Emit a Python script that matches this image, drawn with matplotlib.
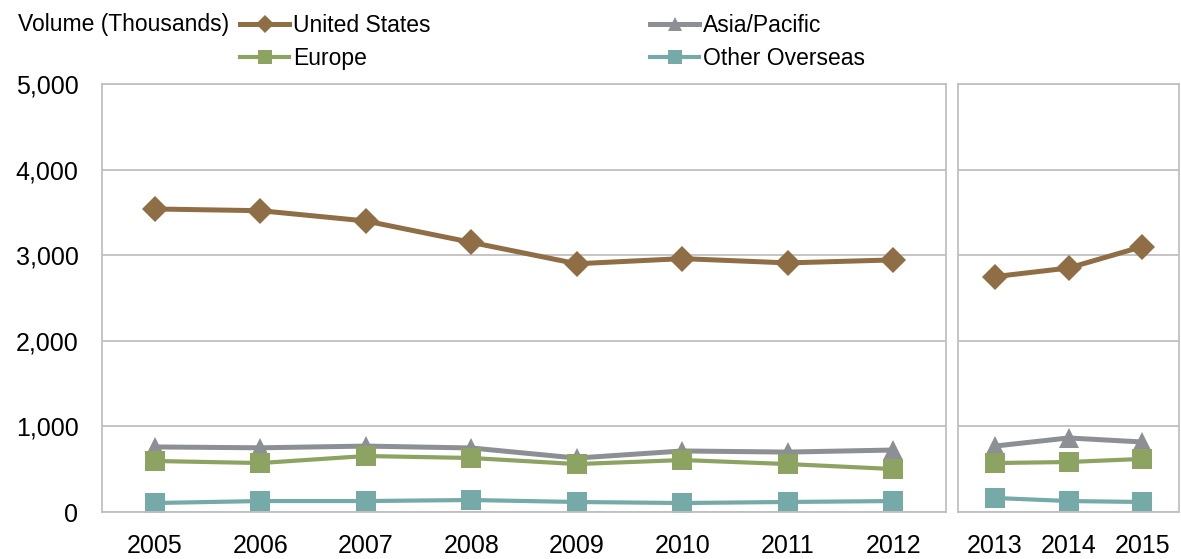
import matplotlib.pyplot as plt
from matplotlib.lines import Line2D

plt.rcParams['font.family'] = ['Liberation Sans', 'DejaVu Sans']

# data (thousands)
years_a = ['2005', '2006', '2007', '2008', '2009', '2010', '2011', '2012']
years_b = ['2013', '2014', '2015']

us = [3540, 3520, 3400, 3150, 2900, 2960, 2910, 2945, 2750, 2850, 3100]
asia = [760, 750, 770, 748, 630, 713, 700, 724, 770, 865, 818]
europe = [596, 572, 654, 631, 560, 607, 560, 502, 572, 584, 620]
other = [105, 128, 128, 140, 117, 105, 117, 128, 164, 128, 117]

# name, values, colour, marker, marker size, line width
series = [
    ('United States', us, '#8f6d45', 'D', 13, 3.6),
    ('Asia/Pacific', asia, '#8c9094', '^', 14, 3.6),
    ('Europe', europe, '#8da362', 's', 14, 3.0),
    ('Other Overseas', other, '#76aaa8', 's', 14, 3.0),
]

fig = plt.figure(figsize=(11.81, 5.59), dpi=100)
ax1 = fig.add_axes([102 / 1181, 47 / 559, 844 / 1181, 428 / 559])
ax2 = fig.add_axes([958 / 1181, 47 / 559, 221 / 1181, 428 / 559])

n_a = len(years_a)
for name, vals, col, mk, ms, lw in series:
    ax1.plot(range(n_a), vals[:n_a], color=col, lw=lw, marker=mk, ms=ms,
             markeredgewidth=0, label=name)
    ax2.plot(range(len(years_b)), vals[n_a:], color=col, lw=lw, marker=mk, ms=ms,
             markeredgewidth=0)

grid_col = '#c0c0c0'
for ax, labels in [(ax1, years_a), (ax2, years_b)]:
    ax.set_ylim(0, 5000)
    ax.set_yticks(range(0, 5001, 1000))
    ax.set_xlim(-0.5, len(labels) - 0.5)
    ax.set_xticks(range(len(labels)))
    ax.set_xticklabels(labels)
    ax.grid(axis='y', color=grid_col, lw=1.3)
    ax.set_axisbelow(True)
    for sp in ax.spines.values():
        sp.set_color(grid_col)
        sp.set_linewidth(1.3)
    ax.tick_params(length=0, labelsize=18)
    ax.tick_params(axis='x', pad=16)
    ax.tick_params(axis='y', pad=17)

ax1.set_yticklabels([f'{v:,}' for v in range(0, 5001, 1000)])
ax2.set_yticklabels([])

fig.text(18 / 1181, 1 - 25 / 559, 'Volume (Thousands)', fontsize=16.5, va='center', ha='left')

# legend filled column-wise: order so rows read US/Asia, Europe/Other
order = [0, 2, 1, 3]
handles = [Line2D([0], [0], color=series[i][2], lw=series[i][5], marker=series[i][3],
                  ms=series[i][4] * 0.7, markeredgewidth=0) for i in order]
labels = [series[i][0] for i in order]
fig.legend(handles, labels, loc='upper left', bbox_to_anchor=(240 / 1181, 1 - 14 / 559),
           ncol=2, frameon=False, fontsize=16.5, handlelength=2.15, handletextpad=0.15,
           columnspacing=9.6, labelspacing=0.45, borderaxespad=0, borderpad=0)

fig.savefig('out.png', dpi=100)
